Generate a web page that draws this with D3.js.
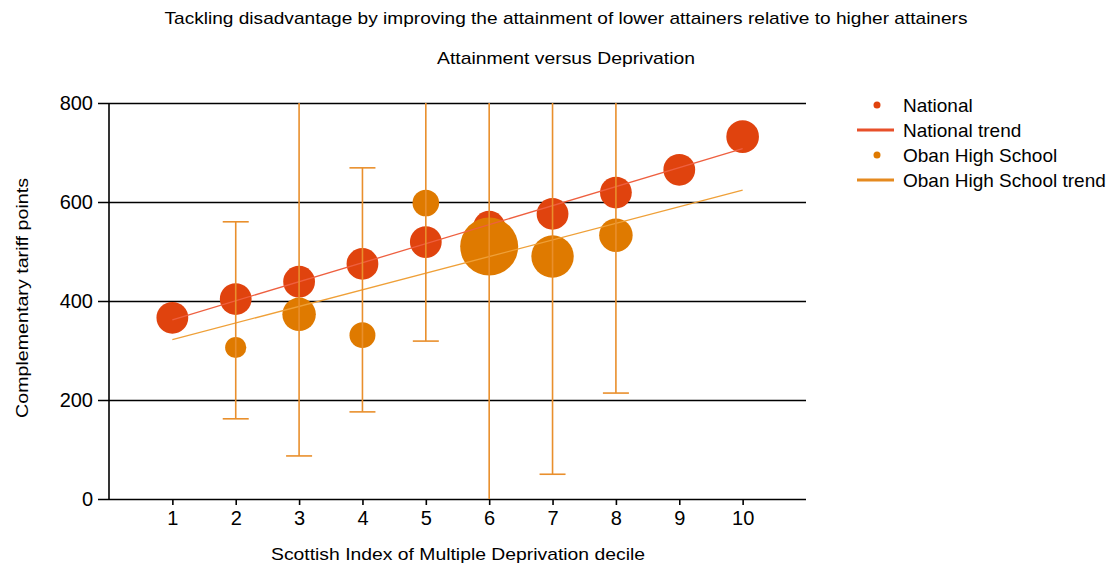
<!DOCTYPE html>
<html><head><meta charset="utf-8">
<script src="https://cdn.jsdelivr.net/npm/d3@7"></script>
<style>body{margin:0;background:#fff}svg{display:block}text{font-family:"Liberation Sans",Arial,sans-serif;fill:#000}</style>
</head><body>
<svg id="c" width="1111" height="569"></svg>
<script>
const deciles = [1,2,3,4,5,6,7,8,9,10];
const nationalValues = [366,404,439,475,519,550,576,619,665,732];
const nationalSizes = [9,9,9,9,9,9,9,9,9,9.5];
const obanDeciles = [2,3,4,5,6,7,8];
const obanValues = [306,373,331,598,510,490,533];
const obanSizes = [4,10,6,6.3,30,16,10];
const obanLow = [162,87,176,319,-60,50,214];
const obanHigh = [560,900,669,900,900,900,900];
const nationalTrend = [[1,362],[10,708]];
const obanTrend = [[1,322],[10,624]];
const yTicks = [0,200,400,600,800];
const xTicks = deciles;
const title = "Tackling disadvantage by improving the attainment of lower attainers relative to higher attainers";
const subtitle = "Attainment versus Deprivation";
const xLabel = "Scottish Index of Multiple Deprivation decile";
const yLabel = "Complementary tariff points";
const legendItems = [
  {label:"National", type:"dot", color:"#E0430E"},
  {label:"National trend", type:"line", color:"#E8502A"},
  {label:"Oban High School", type:"dot", color:"#DF7A00"},
  {label:"Oban High School trend", type:"line", color:"#E58A1F"}
];

const natColor = "#E0430E", obanColor = "#DF7A00";
const natTrendColor = "#EE6040", obanTrendColor = "#EFA038", errColor = "#E98F2C";

const svg = d3.select("#c");
const L = 109, R = 806, T = 103, B = 499;
const x = d3.scaleLinear().domain([0,11]).range([L,R]);
const y = d3.scaleLinear().domain([0,800]).range([B,T]);
const rScale = d3.scaleSqrt().domain([0,30]).range([0,29]);

svg.append("defs").append("clipPath").attr("id","clip")
  .append("rect").attr("x",L).attr("y",T).attr("width",R-L).attr("height",B-T);

// titles
svg.append("text").attr("x",566).attr("y",24).attr("text-anchor","middle")
  .style("font-size","17px").attr("textLength",803).attr("lengthAdjust","spacingAndGlyphs").text(title);
svg.append("text").attr("x",566).attr("y",64).attr("text-anchor","middle")
  .style("font-size","17px").attr("textLength",258).attr("lengthAdjust","spacingAndGlyphs").text(subtitle);

// gridlines via axis
const yAxis = d3.axisLeft(y).tickValues(yTicks).tickSize(-(R-L)-11).tickPadding(5).tickFormat(d3.format("d"));
const gy = svg.append("g").attr("transform",`translate(${L-11},0)`).call(yAxis);
gy.select(".domain").remove();
gy.selectAll(".tick line").attr("transform","translate(0,0)").attr("stroke","#000").attr("stroke-width",1.6);
gy.selectAll(".tick text").style("font-size","20px").attr("x",-5);
// y axis line
svg.append("line").attr("x1",L).attr("x2",L).attr("y1",T).attr("y2",B).attr("stroke","#000").attr("stroke-width",1.6);

const xAxis = d3.axisBottom(x).tickValues(xTicks).tickSize(6).tickPadding(6).tickFormat(d3.format("d"));
const gx = svg.append("g").attr("transform",`translate(0,${B})`).call(xAxis);
gx.select(".domain").remove();
gx.selectAll(".tick line").attr("stroke","#000").attr("stroke-width",1.6);
gx.selectAll(".tick text").style("font-size","20px");

// axis labels
svg.append("text").attr("x",458).attr("y",560).attr("text-anchor","middle")
  .style("font-size","17px").attr("textLength",374).attr("lengthAdjust","spacingAndGlyphs").text(xLabel);
svg.append("text").attr("transform","translate(28,298) rotate(-90)").attr("text-anchor","middle")
  .style("font-size","17px").attr("textLength",240).attr("lengthAdjust","spacingAndGlyphs").text(yLabel);

const plot = svg.append("g").attr("clip-path","url(#clip)");

// national circles
plot.selectAll("circle.nat").data(deciles).join("circle").attr("class","nat")
  .attr("cx",d=>x(d)).attr("cy",(d,i)=>y(nationalValues[i])).attr("r",(d,i)=>rScale(nationalSizes[i]))
  .attr("fill",natColor);
// oban circles
plot.selectAll("circle.ob").data(obanDeciles).join("circle").attr("class","ob")
  .attr("cx",d=>x(d)).attr("cy",(d,i)=>y(obanValues[i])).attr("r",(d,i)=>rScale(obanSizes[i]))
  .attr("fill",obanColor);

const line = d3.line().x(d=>x(d[0])).y(d=>y(d[1]));
plot.append("path").attr("d",line(nationalTrend)).attr("stroke",natTrendColor).attr("stroke-width",1.3).attr("fill","none");
plot.append("path").attr("d",line(obanTrend)).attr("stroke",obanTrendColor).attr("stroke-width",1.3).attr("fill","none");

// error bars
const eb = plot.selectAll("g.eb").data(obanDeciles).join("g").attr("class","eb");
eb.append("line").attr("x1",d=>x(d)).attr("x2",d=>x(d)).attr("y1",(d,i)=>y(obanLow[i])).attr("y2",(d,i)=>y(obanHigh[i]))
  .attr("stroke",errColor).attr("stroke-width",1.6);
eb.append("line").attr("x1",d=>x(d)-13).attr("x2",d=>x(d)+13).attr("y1",(d,i)=>y(obanLow[i])).attr("y2",(d,i)=>y(obanLow[i]))
  .attr("stroke",errColor).attr("stroke-width",1.6);
eb.append("line").attr("x1",d=>x(d)-13).attr("x2",d=>x(d)+13).attr("y1",(d,i)=>y(obanHigh[i])).attr("y2",(d,i)=>y(obanHigh[i]))
  .attr("stroke",errColor).attr("stroke-width",1.6);

// legend
const lg = svg.append("g");
legendItems.forEach((it,i)=>{
  const cy = 105 + i*25;
  if(it.type==="dot") lg.append("circle").attr("cx",877).attr("cy",cy).attr("r",3.5).attr("fill",it.color);
  else lg.append("line").attr("x1",857).attr("x2",894).attr("y1",cy).attr("y2",cy).attr("stroke",it.color).attr("stroke-width",3);
  lg.append("text").attr("x",903).attr("y",cy+7).style("font-size","19px").text(it.label);
});
</script>
</body></html>
